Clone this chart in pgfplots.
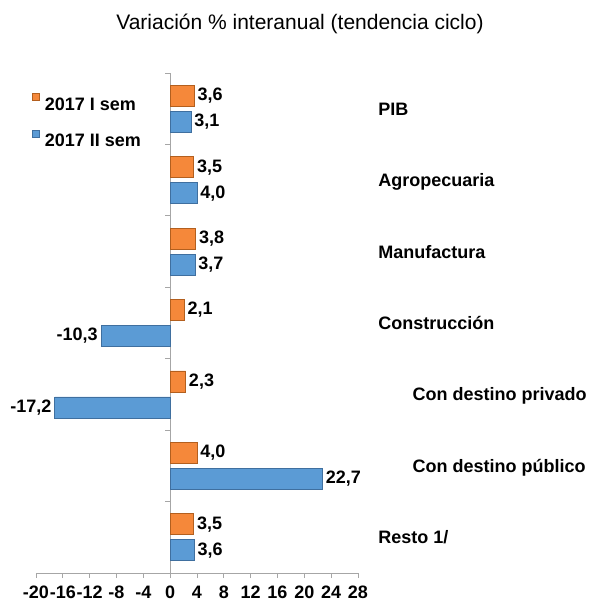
\documentclass[border=0pt]{standalone}
\usepackage{fontspec}
\setmainfont{Liberation Sans}
\usepackage{pgfplots}
\pgfplotsset{compat=1.18}
\definecolor{orangebar}{HTML}{F5883A}
\definecolor{orangeedge}{HTML}{B35F1E}
\definecolor{bluebar}{HTML}{5B9BD5}
\definecolor{blueedge}{HTML}{3F6F9F}
\definecolor{axisgray}{HTML}{A6A6A6}
\newcommand{\lbl}{\fontsize{18bp}{20bp}\selectfont\bfseries}
\begin{document}
\begin{tikzpicture}
\path[use as bounding box] (-36bp,-29bp) rectangle (554bp,573bp);
\begin{axis}[
  at={(0,0)}, anchor=south west,
  scale only axis, width=322bp, height=500bp,
  xbar, bar width=21bp,
  xmin=-20, xmax=28, ymin=-0.5, ymax=6.5,
  axis x line=bottom, axis y line=middle,
  axis line style={-, draw=axisgray, line width=0.8bp},
  hide obscured x ticks=false,
  xtick={-20,-16,...,28},
  ytick={-0.5,0.5,...,6.5}, yticklabels={},
  tick style={draw=axisgray, line width=0.8bp},
  major tick length=5bp, tick align=outside,
  xticklabel style={font=\lbl, inner sep=1bp, yshift=-7bp},
  /pgf/number format/assume math mode=true,
  clip=false,
  nodes near coords={\pgfmathprintnumber[fixed,fixed zerofill,precision=1,use comma,assume math mode=true]{\pgfplotspointmeta}},
  every node near coord/.append style={font=\lbl, inner sep=3bp, text=black},
  legend style={at={(-0.0124,0.96)}, anchor=north west, draw=none, fill=none,
    inner sep=0pt, font=\lbl, row sep=18bp, column sep=3bp,
    nodes={inner sep=2bp, text height=13bp, text depth=0bp}},
  legend cell align=left,
]
\addplot[fill=orangebar, draw=orangeedge, line width=0.8bp, bar shift=13bp,
  legend image code/.code={\draw[fill=orangebar, draw=orangeedge, line width=0.6bp] (0bp,3bp) rectangle (7bp,10bp);}]
  coordinates {(3.6,6) (3.5,5) (3.8,4) (2.1,3) (2.3,2) (4.0,1) (3.5,0)};
\addlegendentry{2017 I sem}
\addplot[fill=bluebar, draw=blueedge, line width=0.8bp, bar shift=-13bp,
  legend image code/.code={\draw[fill=bluebar, draw=blueedge, line width=0.6bp] (0bp,3bp) rectangle (7bp,10bp);}]
  coordinates {(3.1,6) (4.0,5) (3.7,4) (-10.3,3) (-17.2,2) (22.7,1) (3.6,0)};
\addlegendentry{2017 II sem}
\begin{scope}[every node/.style={anchor=base west, font=\lbl, inner sep=0pt, yshift=-6.5bp}]
\node at (axis cs:31,6) {PIB};
\node at (axis cs:31,5) {Agropecuaria};
\node at (axis cs:31,4) {Manufactura};
\node at (axis cs:31,3) {Construcción};
\node at (axis cs:36.1,2) {Con destino privado};
\node at (axis cs:36.1,1) {Con destino público};
\node at (axis cs:31,0) {Resto 1/};
\end{scope}
\end{axis}
\node[anchor=base, font=\fontsize{21bp}{24bp}\selectfont] at (264bp,543.5bp) {Variación \% interanual (tendencia ciclo)};
\end{tikzpicture}
\end{document}
